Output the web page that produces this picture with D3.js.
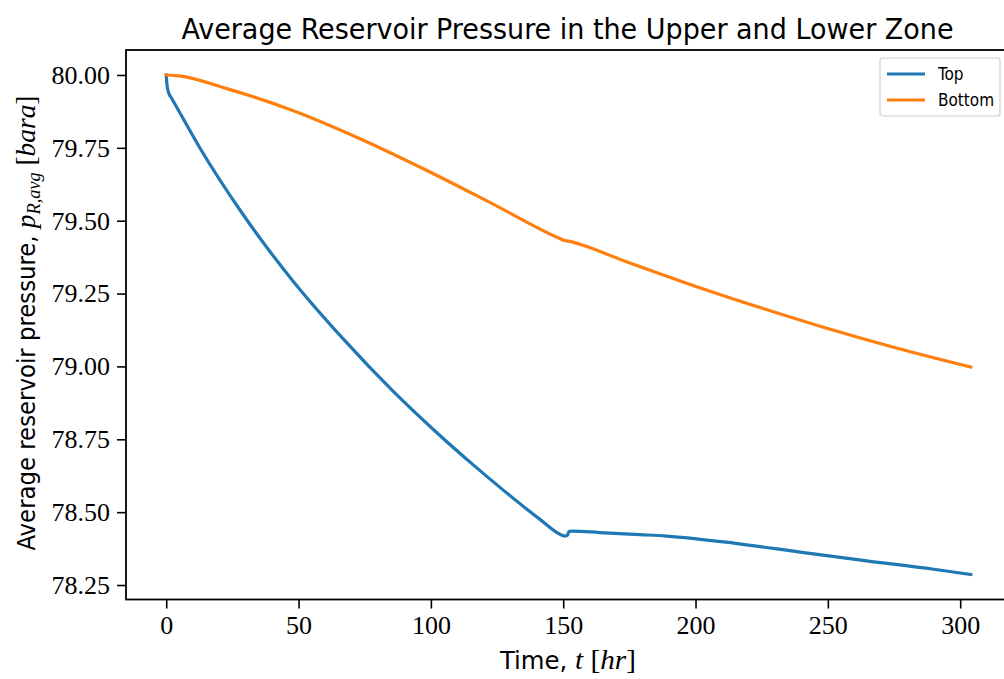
<!DOCTYPE html>
<html>
<head>
<meta charset="utf-8">
<script src="https://cdn.jsdelivr.net/npm/d3@7"></script>
<style>
  body { margin: 0; background: #fff; }
  svg { display: block; overflow: hidden; }
  .tick text { font-family: "Liberation Serif", "DejaVu Serif", serif; }
</style>
</head>
<body>
<div id="body"></div>
<script>
// data
var topTime = [0, 0.3, 1.0, 2.0, 3.0, 12.5, 28.9, 47.8, 66.7, 85.6, 103.3, 115.9, 128.5, 141.1, 149.3, 150.8, 151.5, 152.2, 153.7, 163.8, 179, 189, 214.3, 239.5, 264.7, 290, 304];
var topPressure = [80.0, 79.965, 79.937, 79.921, 79.905, 79.753, 79.523, 79.294, 79.096, 78.916, 78.764, 78.663, 78.567, 78.476, 78.422, 78.418, 78.420, 78.434, 78.435, 78.430, 78.423, 78.418, 78.394, 78.363, 78.333, 78.304, 78.286];
var bottomTime = [0, 4.9, 22.6, 47.8, 73, 98.3, 123.5, 148.7, 150.5, 152, 156.3, 173.9, 199.1, 224.4, 249.6, 274.8, 304];
var bottomPressure = [80.0, 79.997, 79.954, 79.878, 79.782, 79.673, 79.557, 79.439, 79.432, 79.430, 79.419, 79.359, 79.278, 79.202, 79.131, 79.066, 78.998];
var seriesNames = ["Top", "Bottom"];
var xTicks = [0, 50, 100, 150, 200, 250, 300];
var yTicks = [78.25, 78.50, 78.75, 79.00, 79.25, 79.50, 79.75, 80.00];

var width = 1004, height = 679;
var box = {left: 126, right: 1011, top: 50, bottom: 599.5};
var colors = ["#1f77b4", "#ff7f0e"];

var svg = d3.select("#body").append("svg")
    .attr("width", width)
    .attr("height", height);

var series = [
  {name: seriesNames[0], pts: d3.zip(topTime, topPressure)},
  {name: seriesNames[1], pts: d3.zip(bottomTime, bottomPressure)}
];

// matplotlib style 5% margins
var allT = topTime.concat(bottomTime), allP = topPressure.concat(bottomPressure);
var tMin = d3.min(allT), tMax = d3.max(allT), pMin = d3.min(allP), pMax = d3.max(allP);
var tPad = (tMax - tMin) * 0.05, pPad = (pMax - pMin) * 0.05;

var xScale = d3.scaleLinear().domain([tMin - tPad, tMax + tPad]).range([box.left, box.right]);
var yScale = d3.scaleLinear().domain([pMin - pPad, pMax + pPad]).range([box.bottom, box.top]);

var line = d3.line()
    .x(function(d){ return xScale(d[0]); })
    .y(function(d){ return yScale(d[1]); })
    .curve(d3.curveMonotoneX);

svg.selectAll("path.series")
    .data(series)
    .enter()
    .append("path")
    .attr("class", "series")
    .attr("d", function(d){ return line(d.pts); })
    .attr("fill", "none")
    .attr("stroke", function(d, i){ return colors[i]; })
    .attr("stroke-width", 3.2)
    .attr("stroke-linejoin", "round")
    .attr("stroke-linecap", "square");

// frame
svg.append("rect")
    .attr("x", box.left).attr("y", box.top)
    .attr("width", box.right - box.left).attr("height", box.bottom - box.top)
    .attr("fill", "none").attr("stroke", "#000").attr("stroke-width", 1.8);

// axes
var xAxis = d3.axisBottom(xScale).tickValues(xTicks).tickSize(9).tickPadding(7).tickFormat(d3.format("d"));
var yAxis = d3.axisLeft(yScale).tickValues(yTicks).tickSize(9).tickPadding(7).tickFormat(d3.format(".2f"));

var gx = svg.append("g").attr("transform", "translate(0," + box.bottom + ")").call(xAxis);
var gy = svg.append("g").attr("transform", "translate(" + box.left + ",0)").call(yAxis);
[gx, gy].forEach(function(g){
  g.select(".domain").remove();
  g.selectAll(".tick line").attr("stroke", "#000").attr("stroke-width", 1.6);
  g.selectAll(".tick text").attr("font-size", 26).attr("fill", "#000");
});

// title
svg.append("text")
    .attr("x", (box.left + box.right) / 2 - 1).attr("y", 39)
    .attr("text-anchor", "middle")
    .attr("font-family", "'DejaVu Sans Condensed', 'Liberation Sans Narrow', 'DejaVu Sans', sans-serif")
    .attr("font-size", 29)
    .attr("textLength", 772).attr("lengthAdjust", "spacingAndGlyphs")
    .text("Average Reservoir Pressure in the Upper and Lower Zone");

// x label
var xl = svg.append("text")
    .attr("x", 568).attr("y", 669)
    .attr("text-anchor", "middle")
    .attr("font-size", 25)
    .attr("textLength", 136).attr("lengthAdjust", "spacingAndGlyphs")
    .attr("font-family", "'DejaVu Sans Condensed', 'DejaVu Sans', sans-serif");
xl.append("tspan").text("Time, ");
xl.append("tspan").attr("font-family", "'Liberation Serif', serif").attr("font-style", "italic").attr("font-size", 27).text("t");
xl.append("tspan").attr("font-family", "'Liberation Serif', serif").attr("font-size", 27).text(" [");
xl.append("tspan").attr("font-family", "'Liberation Serif', serif").attr("font-style", "italic").attr("font-size", 27).text("hr");
xl.append("tspan").attr("font-family", "'Liberation Serif', serif").attr("font-size", 27).text("]");

// y label
var yl = svg.append("text")
    .attr("transform", "translate(35," + 323 + ") rotate(-90)")
    .attr("text-anchor", "middle")
    .attr("font-size", 25)
    .attr("textLength", 455).attr("lengthAdjust", "spacingAndGlyphs")
    .attr("font-family", "'DejaVu Sans Condensed', 'DejaVu Sans', sans-serif");
yl.append("tspan").text("Average reservoir pressure, ");
yl.append("tspan").attr("font-family", "'Liberation Serif', serif").attr("font-style", "italic").attr("font-size", 27).text("p");
yl.append("tspan").attr("font-family", "'Liberation Serif', serif").attr("font-style", "italic").attr("font-size", 18).attr("dy", 5).text("R,avg");
yl.append("tspan").attr("font-family", "'Liberation Serif', serif").attr("dy", -5).attr("font-size", 27).text(" [");
yl.append("tspan").attr("font-family", "'Liberation Serif', serif").attr("font-style", "italic").attr("font-size", 27).text("bara");
yl.append("tspan").attr("font-family", "'Liberation Serif', serif").attr("font-size", 27).text("]");

// legend
var lg = svg.append("g").attr("transform", "translate(880,58)");
lg.append("rect")
    .attr("width", 120).attr("height", 58).attr("rx", 3)
    .attr("fill", "#fff").attr("fill-opacity", 0.8)
    .attr("stroke", "#d0d0d0").attr("stroke-width", 1.2);
var items = lg.selectAll("g.item").data(series).enter().append("g")
    .attr("class", "item")
    .attr("transform", function(d, i){ return "translate(0," + (16 + i * 26) + ")"; });
items.append("line")
    .attr("x1", 7).attr("x2", 45)
    .attr("stroke", function(d, i){ return colors[i]; })
    .attr("stroke-width", 3.2);
items.append("text")
    .attr("x", 58).attr("y", 6)
    .attr("font-size", 17)
    .attr("font-family", "'DejaVu Sans Condensed', 'DejaVu Sans', sans-serif")
    .text(function(d){ return d.name; });
</script>
</body>
</html>
